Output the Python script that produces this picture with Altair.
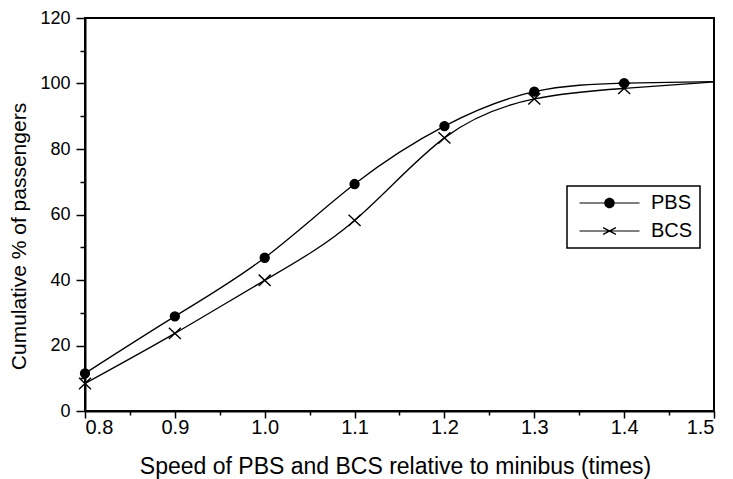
import altair as alt
import pandas as pd

# values
speed = [0.8, 0.9, 1.0, 1.1, 1.2, 1.3, 1.4]
pbs = [11.5, 28.9, 46.8, 69.3, 87.0, 97.5, 100.1]
bcs = [8.4, 23.7, 39.9, 58.2, 83.4, 95.3, 98.5]
# where the fitted curves end at the right frame
curve_end_speed = 1.5
pbs_curve_end = 100.6
bcs_curve_end = 100.5

series = ["PBS", "BCS"]
x_major = [0.8, 0.9, 1.0, 1.1, 1.2, 1.3, 1.4, 1.5]
x_minor = [0.85, 0.95, 1.05, 1.15, 1.25, 1.35, 1.45]
y_major = [0, 20, 40, 60, 80, 100, 120]
y_minor = [10, 30, 50, 70, 90, 110]

pts = pd.DataFrame(
    [{"speed": s, "pct": v, "series": "PBS"} for s, v in zip(speed, pbs)]
    + [{"speed": s, "pct": v, "series": "BCS"} for s, v in zip(speed, bcs)]
)
curve = pd.concat([
    pts,
    pd.DataFrame([
        {"speed": curve_end_speed, "pct": pbs_curve_end, "series": "PBS"},
        {"speed": curve_end_speed, "pct": bcs_curve_end, "series": "BCS"},
    ]),
], ignore_index=True)

FONT = "Liberation Sans"
xscale = alt.Scale(domain=[0.8, 1.5], nice=False, zero=False)
yscale = alt.Scale(domain=[0, 120], nice=False)

x_path = "M-1,-0.95L1,0.95M-1,0.95L1,-0.95"

# legend symbols drawn as filled outlines (line + marker)
legend_line = "M-0.6,-0.08H7.4V0.08H-0.6Z"
legend_pbs = legend_line + "M4.1,0A0.7,0.7,0,1,1,2.7,0A0.7,0.7,0,1,1,4.1,0Z"
legend_bcs = (legend_line
              + "M2.509,-0.373L2.591,-0.527L4.291,0.373L4.209,0.527Z"
              + "M2.591,0.527L2.509,0.373L4.209,-0.527L4.291,-0.373Z")

lines = alt.Chart(curve).mark_line(
    interpolate="natural", color="black", strokeWidth=1.3
).encode(
    x=alt.X("speed:Q", scale=xscale, axis=alt.Axis(
        orient="bottom", values=x_major, format=".1f",
        title="Speed of PBS and BCS relative to minibus (times)",
        tickSize=7, labelPadding=-1, labelFontSize=20,
        titleFontSize=23, titleX=310, titleY=62, titleBaseline="alphabetic",
        titleAnchor="middle")),
    y=alt.Y("pct:Q", scale=yscale, axis=alt.Axis(
        orient="left", values=y_major,
        title="Cumulative % of passengers",
        tickSize=9, labelPadding=6, labelFontSize=18,
        titleFontSize=21, titleX=-60, titleY=218, titleAngle=270,
        titleBaseline="alphabetic", titleAlign="center")),
    detail="series:N",
)

minor = alt.Chart(pts).mark_point(opacity=0).encode(
    x=alt.X("speed:Q", scale=xscale, axis=alt.Axis(
        orient="bottom", values=x_minor, labels=False, domain=False,
        tickSize=4, title=None)),
    y=alt.Y("pct:Q", scale=yscale, axis=alt.Axis(
        orient="left", values=y_minor, labels=False, domain=False,
        tickSize=5, title=None)),
)

markers = alt.Chart(pts).mark_point(
    filled=True, fill="black", stroke="black", strokeWidth=1.4, opacity=1
).encode(
    x=alt.X("speed:Q", scale=xscale, axis=None),
    y=alt.Y("pct:Q", scale=yscale, axis=None),
    shape=alt.Shape("series:N", scale=alt.Scale(domain=series, range=["circle", x_path]), legend=None),
    size=alt.Size("series:N", scale=alt.Scale(domain=series, range=[80, 144]), legend=None),
)

legend_layer = alt.Chart(pts).transform_filter("datum.pct < -1000").mark_point(
    filled=True, fill="black", opacity=1
).encode(
    x=alt.X("speed:Q", scale=xscale, axis=None),
    y=alt.Y("pct:Q", scale=yscale, axis=None),
    shape=alt.Shape("series:N", scale=alt.Scale(domain=series, range=[legend_pbs, legend_bcs]),
                    legend=alt.Legend(
                        title=None, orient="none", legendX=482, legendY=168,
                        padding=7, strokeColor="black", fillColor="white",
                        symbolSize=225, symbolFillColor="black",
                        symbolOpacity=1,
                        labelFontSize=20, labelFont=FONT, labelColor="black",
                        labelOffset=57, rowPadding=8)),
)

chart = alt.layer(lines, minor, markers, legend_layer).resolve_scale(
    shape="independent", size="independent"
).resolve_axis(
    x="independent", y="independent"
).resolve_legend(
    shape="independent", size="independent"
).properties(
    width=629, height=393,
    autosize=alt.AutoSizeParams(type="none"),
    padding={"left": 77, "top": 10, "right": 11, "bottom": 68},
    background="white",
).configure_view(
    stroke="black", strokeWidth=2
).configure_axis(
    domainColor="black", domainWidth=2, tickColor="black", tickWidth=1.5,
    labelColor="black", titleColor="black", labelFont=FONT, titleFont=FONT,
    titleFontWeight="normal", grid=False,
).configure_legend(
    strokeWidth=1.5,
)

chart.save("out.html", embed_options={"renderer": "svg", "actions": False})
